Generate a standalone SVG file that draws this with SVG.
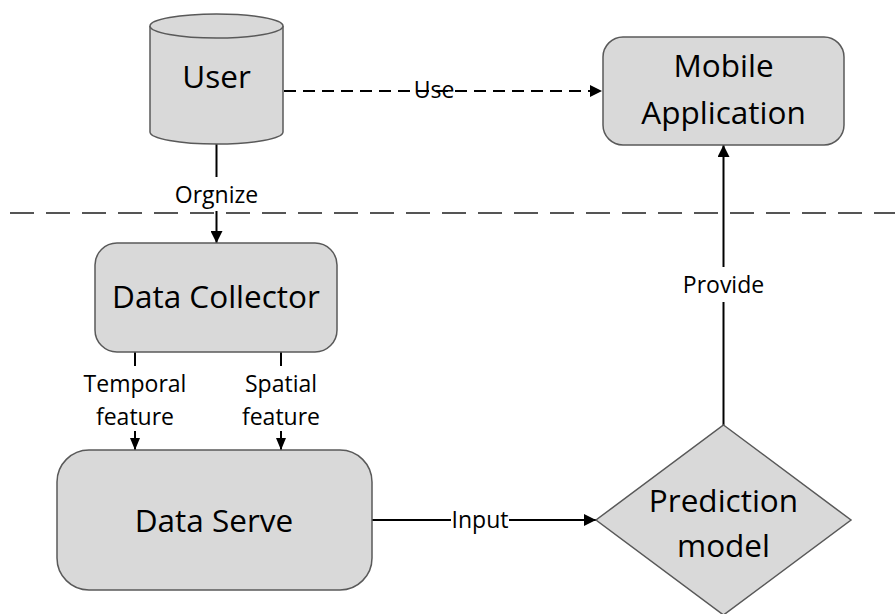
<svg xmlns="http://www.w3.org/2000/svg" width="895" height="614" viewBox="0 0 895 614">
<style>
.node{fill:#d9d9d9;stroke:#595959;stroke-width:1.5}
.big{font-family:"Open Sans","Liberation Sans",sans-serif;font-size:31.5px;fill:#000;text-anchor:middle}
.lbl{font-family:"Open Sans","Liberation Sans",sans-serif;font-size:23px;fill:#000;text-anchor:middle}
.ln{stroke:#000;stroke-width:2;fill:none}
</style>
<defs>
<marker id="ah" viewBox="0 0 12 12" refX="12" refY="6" markerWidth="12" markerHeight="12" markerUnits="userSpaceOnUse" orient="auto">
<path d="M0,0 L12,6 L0,12 Z" fill="#000"/>
</marker>
<marker id="ahs" viewBox="0 0 12 10" refX="12" refY="5" markerWidth="12" markerHeight="10" markerUnits="userSpaceOnUse" orient="auto">
<path d="M0,0 L12,5 L0,10 Z" fill="#000"/>
</marker>
</defs>
<rect width="895" height="614" fill="#fff"/>
<line x1="10" y1="213" x2="895" y2="213" stroke="#555" stroke-width="2" stroke-dasharray="24 12"/>
<g id="connectors">
<line class="ln" x1="284" y1="91" x2="602" y2="91" stroke-dasharray="12 7" marker-end="url(#ah)"/>
<text class="lbl" x="434" y="98">Use</text>
<line class="ln" x1="216.5" y1="144" x2="216.5" y2="177"/>
<text class="lbl" x="216.5" y="203">Orgnize</text>
<line class="ln" x1="216.5" y1="211" x2="216.5" y2="243" marker-end="url(#ah)"/>
<line class="ln" x1="135" y1="352" x2="135" y2="366"/>
<text class="lbl" x="135" y="392">Temporal</text>
<text class="lbl" x="135" y="425">feature</text>
<line class="ln" x1="135" y1="431" x2="135" y2="450" marker-end="url(#ahs)"/>
<line class="ln" x1="281" y1="352" x2="281" y2="366"/>
<text class="lbl" x="281" y="392">Spatial</text>
<text class="lbl" x="281" y="425">feature</text>
<line class="ln" x1="281" y1="431" x2="281" y2="450" marker-end="url(#ahs)"/>
<line class="ln" x1="372" y1="520" x2="451" y2="520"/>
<text class="lbl" x="480" y="528">Input</text>
<line class="ln" x1="509" y1="520" x2="596" y2="520" marker-end="url(#ah)"/>
<line class="ln" x1="723.5" y1="425" x2="723.5" y2="302"/>
<text class="lbl" x="723.5" y="293">Provide</text>
<line class="ln" x1="723.5" y1="267" x2="723.5" y2="145" marker-end="url(#ah)"/>
</g>
<g id="user">
<path class="node" d="M150,26 L150,132 A66.5,12 0 0 0 283,132 L283,26"/>
<ellipse class="node" cx="216.5" cy="26" rx="66.5" ry="12"/>
<text class="big" x="216.5" y="88">User</text>
</g>
<g id="mobile">
<rect class="node" x="603" y="37" width="241" height="108" rx="20"/>
<text class="big" x="723.5" y="77">Mobile</text>
<text class="big" x="723.5" y="124">Application</text>
</g>
<g id="collector">
<rect class="node" x="95" y="243" width="242" height="109" rx="22"/>
<text class="big" x="216" y="308">Data Collector</text>
</g>
<g id="serve">
<rect class="node" x="57" y="450" width="315" height="140" rx="32"/>
<text class="big" x="214" y="532">Data Serve</text>
</g>
<g id="prediction">
<polygon class="node" points="723.5,425 851,520 723.5,615 596,520"/>
<text class="big" x="723.5" y="512">Prediction</text>
<text class="big" x="723.5" y="557">model</text>
</g>
</svg>
